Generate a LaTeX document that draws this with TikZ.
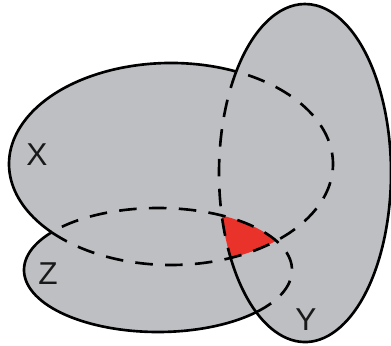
\documentclass[tikz,border=0pt]{standalone}
\usepackage{fontspec}
\setmainfont{Liberation Sans}
\definecolor{cinzento}{RGB}{189,191,195}
\definecolor{vermelho}{RGB}{232,50,42}

\begin{document}
\begin{tikzpicture}[
        x=0.02cm, y=0.02cm,
        contorno/.style={line width=1.5pt, black},
        oculto/.style={contorno, dash pattern=on 10pt off 7pt},
        rotulo/.style={font=\fontsize{18}{20}\selectfont, inner sep=0pt, text=black!90}
    ]

    \useasboundingbox (0,0) rectangle (391,345);

    % centros das elipses
    \coordinate (cX) at (171,181);
    \coordinate (cY) at (305,172);
    \coordinate (cZ) at (158,75);

    % preenchimento
    \fill[cinzento] (cX) ellipse [x radius=162, y radius=101];
    \fill[cinzento] (cY) ellipse [x radius=86, y radius=169];
    \fill[cinzento] (cZ) ellipse [x radius=134, y radius=62];

    % intersecao X, Y e Z
    \begin{scope}
        \clip (cX) ellipse [x radius=162, y radius=101];
        \clip (cY) ellipse [x radius=86, y radius=169];
        \fill[vermelho] (cZ) ellipse [x radius=134, y radius=62];
    \end{scope}

    % contorno de X
    \draw[contorno] (cX) ++(66.2:162 and 101) arc[start angle=66.2, end angle=222.6, x radius=162, y radius=101];
    \draw[oculto] (cX) ++(222.6:162 and 101) arc[start angle=222.6, end angle=426.2, x radius=162, y radius=101];

    % contorno de Y
    \draw[contorno] (cY) ++(210.1:86 and 169) arc[start angle=210.1, end angle=503, x radius=86, y radius=169];
    \draw[oculto] (cY) ++(143:86 and 169) arc[start angle=143, end angle=210.1, x radius=86, y radius=169];

    % contorno de Z
    \draw[contorno] (cZ) ++(142.5:134 and 62) arc[start angle=142.5, end angle=317, x radius=134, y radius=62];
    \draw[oculto] (cZ) ++(317:134 and 62) arc[start angle=317, end angle=502.5, x radius=134, y radius=62];

    % rotulos
    \node[rotulo] (rotX) at (37,190) {X};
    \node[rotulo] (rotZ) at (48,71) {Z};
    \node[rotulo] (rotY) at (306,25) {Y};

\end{tikzpicture}
\end{document}
